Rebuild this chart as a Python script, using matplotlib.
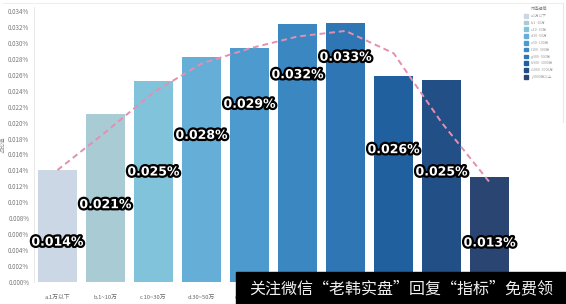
import matplotlib
matplotlib.use("Agg")
import matplotlib.pyplot as plt
import matplotlib.patheffects as pe
from matplotlib.patches import Rectangle
import numpy as np

plt.rcParams['font.family'] = ['Noto Sans CJK SC', 'DejaVu Sans']

categories = ["a.1万以下", "b.1~10万", "c.10~30万", "d.30~50万", "e.50~100万",
              "f.100~300万", "g.300~500万", "h.500~1000万", "i.1000~3000万", "j.3000万以上"]
# values in percent
values = [0.01405, 0.0211, 0.0252, 0.0282, 0.0294, 0.0324, 0.0325, 0.0259, 0.0254, 0.0132]
value_labels = ["0.014%", "0.021%", "0.025%", "0.028%", "0.029%",
                "0.032%", "0.033%", "0.026%", "0.025%", "0.013%"]
label_y = [0.0050, 0.0097, 0.0138, 0.0184, 0.0223, 0.0260, 0.0282, 0.0166, 0.0138, 0.0049]
trend = [0.01405, 0.0188, 0.0238, 0.0274, 0.0293, 0.0308, 0.0315, 0.0287, 0.0200, 0.0125]
yticks = [i * 0.002 for i in range(18)]

colors = ["#cbd7e4", "#a9cbd3", "#82c3dc", "#65aed8", "#4d9bce",
          "#3b87c2", "#2f77b4", "#20609f", "#224f86", "#2a4572"]

fig = plt.figure(figsize=(5.66, 3.04), dpi=100)
ax = fig.add_axes([33.5 / 566, 22 / 304, (518 - 33.5) / 566, 275 / 304])

x = np.arange(len(categories))
ax.bar(x, values, width=0.81, color=colors, zorder=2)
ax.plot(x, trend, linestyle=(0, (3, 2)), color="#e58fb0", linewidth=1.4, zorder=3)

for xi, lab, ly in zip(x, value_labels, label_y):
    ax.text(xi, ly, lab, ha="center", va="center", fontsize=9, fontweight="bold",
            color="white", family="DejaVu Sans", zorder=5,
            path_effects=[pe.withStroke(linewidth=3.2, foreground="black")])

ax.set_xlim(-0.5, 9.59)
ax.set_ylim(0, 0.0345)
ax.set_yticks(yticks)
ax.set_yticklabels([f"{v:.3f}%" for v in yticks], fontsize=4.5, color="#777777")
ax.set_xticks(x)
ax.set_xticklabels(categories, fontsize=4.2, color="#666666")
ax.tick_params(axis="both", length=0, pad=3)
ax.tick_params(axis="x", pad=9)
for s in ["top", "right", "bottom"]:
    ax.spines[s].set_visible(False)
ax.spines["left"].set_color("#e4e4e4")
ax.spines["left"].set_linewidth(0.6)
ax.set_ylabel("占比值", fontsize=4, color="#888888", labelpad=2)

# legend
handles = [Rectangle((0, 0), 1, 1, color=c) for c in colors]
leg = fig.legend(handles, categories, loc="upper left", bbox_to_anchor=(521 / 566, 0.985),
                 fontsize=2.6, title="市值规模", title_fontsize=3, frameon=False,
                 handlelength=1.2, handleheight=1.2, labelspacing=0.75, borderpad=0.2)
for t in leg.get_texts():
    t.set_color("#999999")
leg.get_title().set_color("#888888")

# frame lines
fig.add_artist(plt.Line2D([0.005, 0.995], [0.99, 0.99], color="#eeeeee", linewidth=0.8))
fig.add_artist(plt.Line2D([563 / 566, 563 / 566], [0.6, 0.99], color="#e8e8e8", linewidth=0.8))

# watermark overlay
fig.add_artist(Rectangle((236 / 566, 0), (566 - 236) / 566, 32 / 304,
                         transform=fig.transFigure, color="black", zorder=10))
fig.text(401 / 566, 15 / 304, "关注微信“老韩实盘”回复“指标”免费领", ha="center", va="center",
         fontsize=11.5, color="#f0f0f0", zorder=11)

fig.savefig("out.png", dpi=100, facecolor="white")
